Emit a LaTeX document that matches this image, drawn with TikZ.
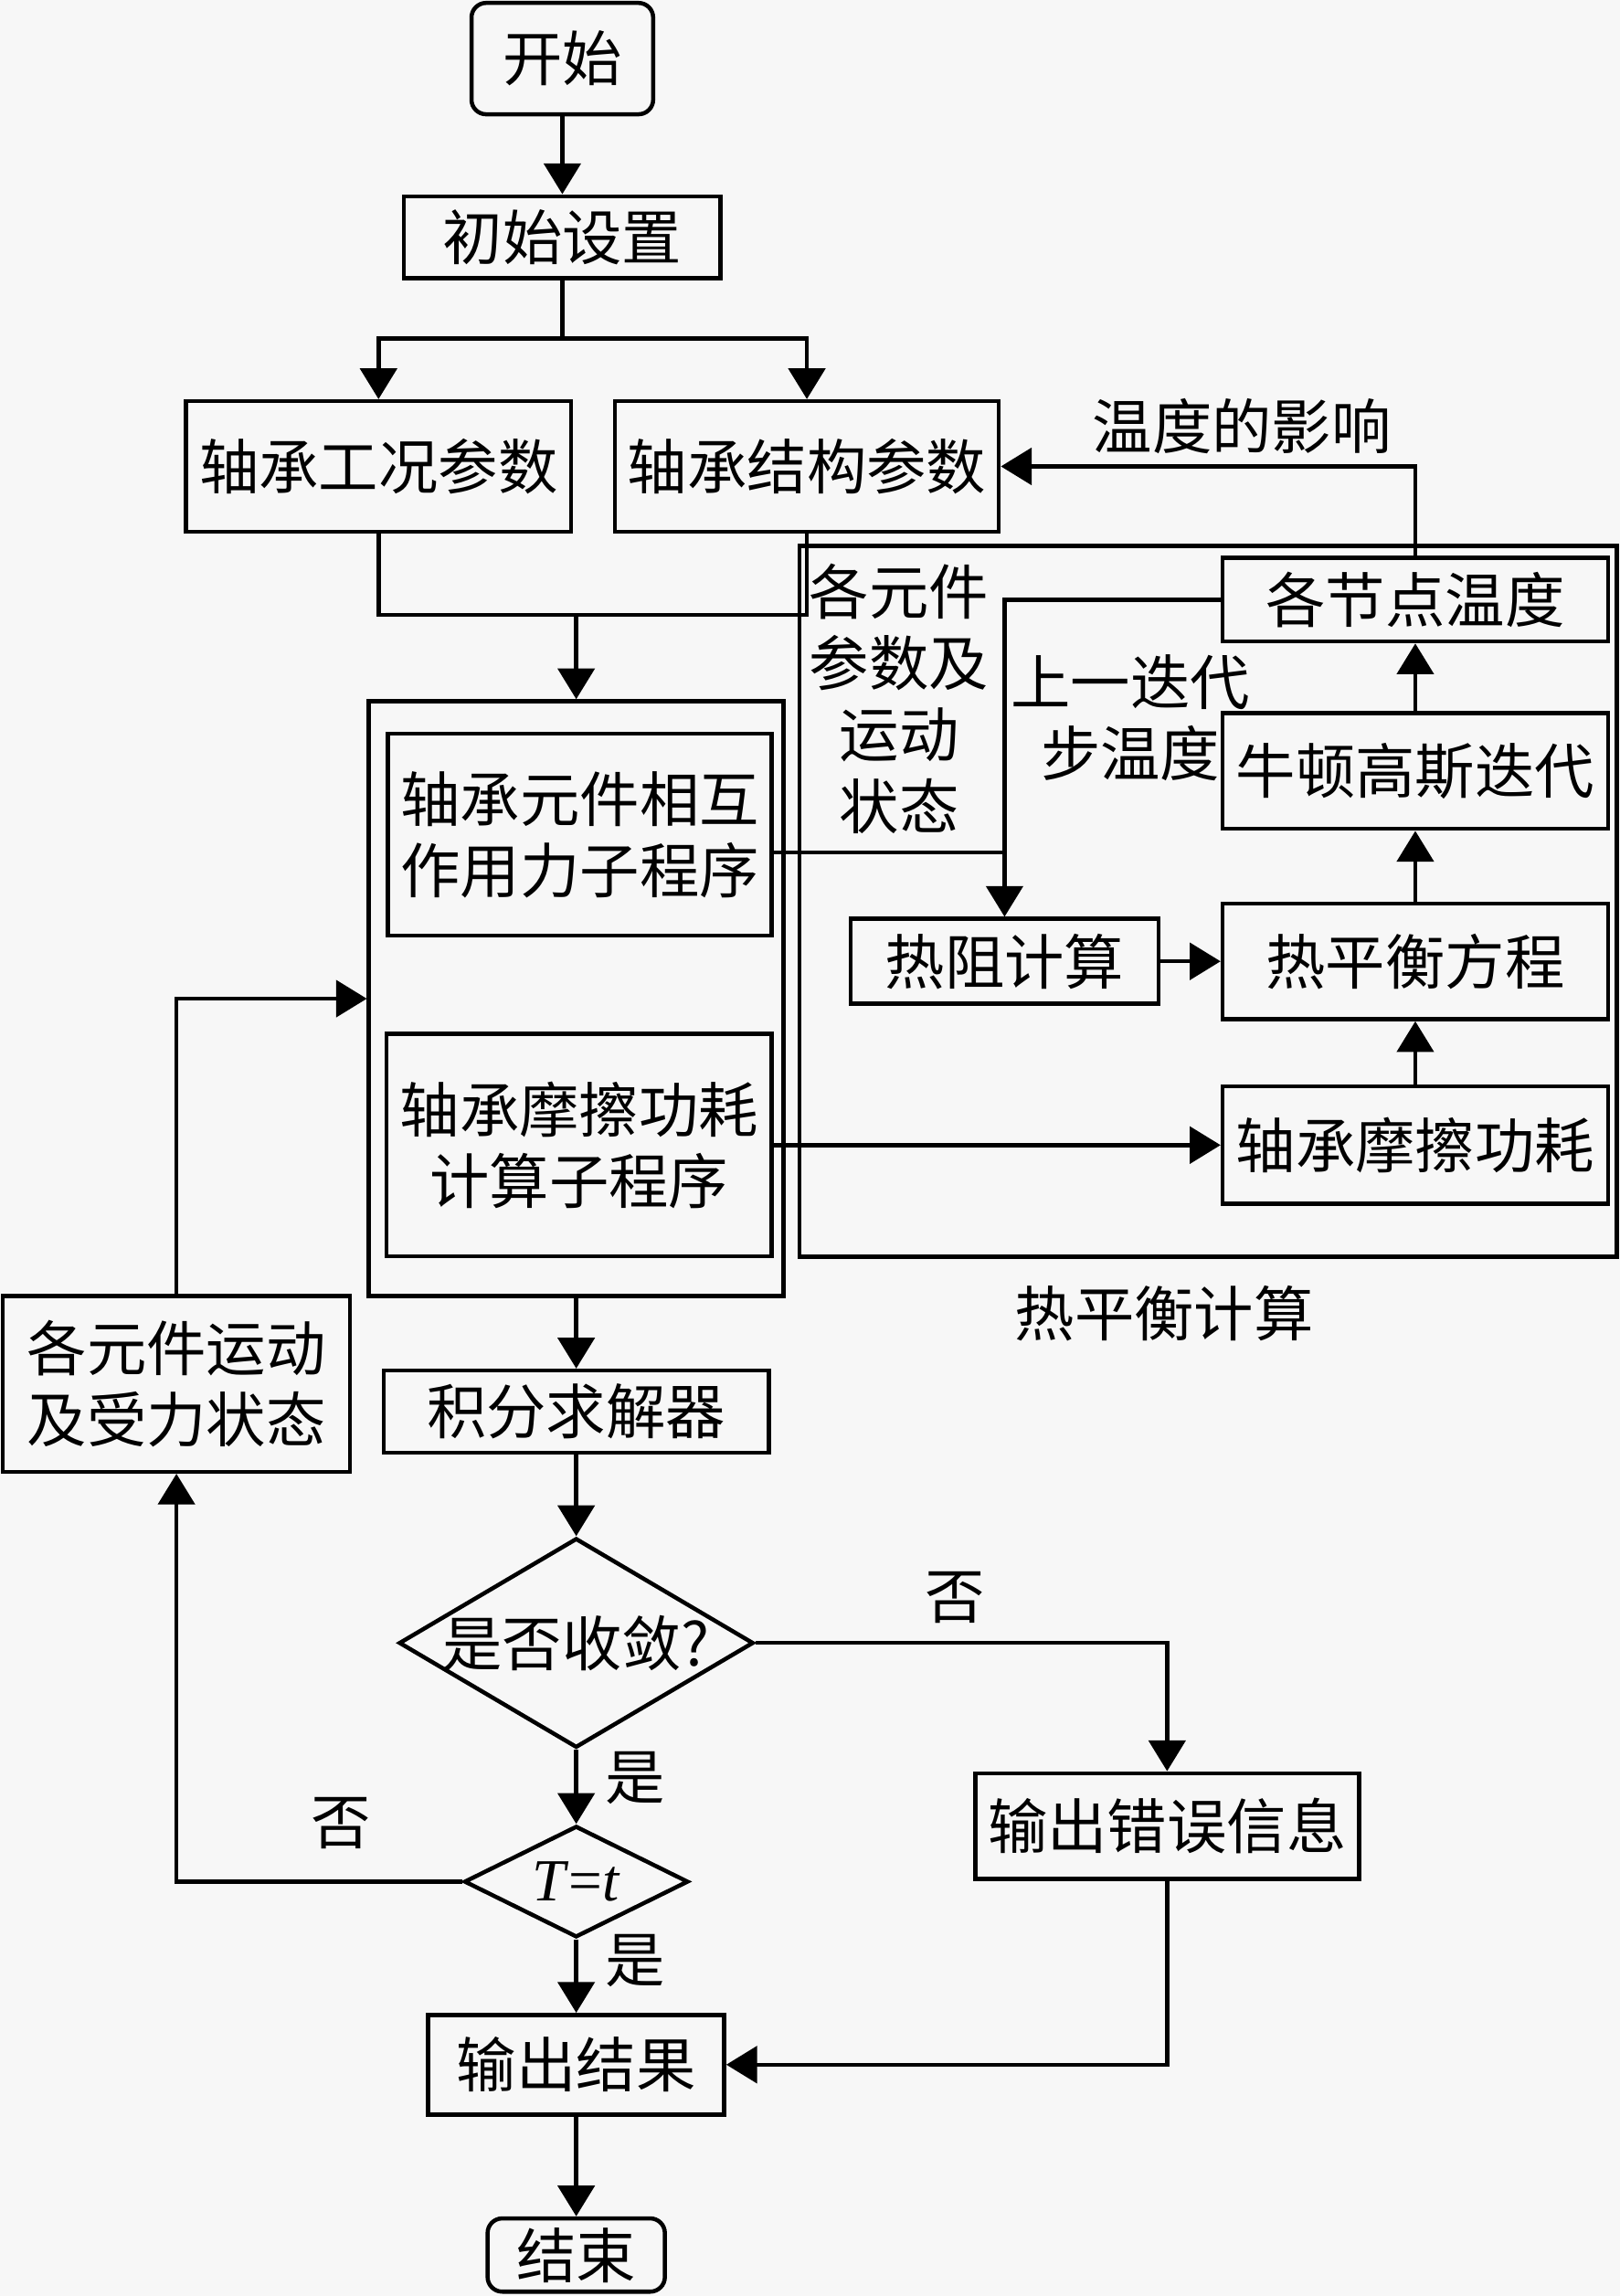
\documentclass[tikz,border=0pt]{standalone}
\usepackage{fontspec}
\setmainfont{Noto Sans CJK SC}
\newfontfamily\latinserif{Liberation Serif}
\usepackage{xcolor}
\usepackage{tikz}
\usetikzlibrary{shapes.geometric,arrows.meta,calc}
\definecolor{paper}{HTML}{F7F7F7}

\begin{document}
\begin{tikzpicture}[x=0.01cm,y=-0.01cm,
  every node/.style={font=\fontsize{11.6pt}{13.9pt}\selectfont},
  blk/.style={draw,line width=0.8pt,inner sep=0pt,align=center},
  term/.style={blk,rounded corners=1mm},
  decide/.style={draw,line width=0.8pt,diamond,inner sep=-0.5mm},
  flow/.style={line width=0.8pt},
  arr/.style={flow,-{Triangle[length=2.1mm,width=2.5mm]}}]
  \fill[paper] (0,0) rectangle (1106,1568);
  \useasboundingbox (0,0) rectangle (1106,1568);

  \node[term,minimum width=1.24cm,minimum height=0.76cm] (start) at (384,40) {开始};
  \node[blk,minimum width=2.16cm,minimum height=0.56cm] (init) at (384,162) {初始设置};
  \node[blk,minimum width=2.63cm,minimum height=0.89cm] (work) at (258.5,318.5) {轴承工况参数};
  \node[blk,minimum width=2.62cm,minimum height=0.89cm] (struct) at (551,318.5) {轴承结构参数};
  \node[blk,minimum width=2.83cm,minimum height=4.06cm] (outer) at (393.5,682) {};
  \node[blk,minimum width=2.62cm,minimum height=1.38cm] (force) at (396,570) {轴承元件相互\\作用力子程序};
  \node[blk,minimum width=2.63cm,minimum height=1.52cm] (fric) at (395.5,782) {轴承摩擦功耗\\计算子程序};
  \node[blk,minimum width=5.58cm,minimum height=4.85cm] (heat) at (825,615.5) {};
  \node[blk,minimum width=2.63cm,minimum height=0.57cm] (nodetemp) at (966.5,409.5) {各节点温度};
  \node[blk,minimum width=2.63cm,minimum height=0.79cm] (newton) at (966.5,526.5) {牛顿高斯迭代};
  \node[blk,minimum width=2.63cm,minimum height=0.79cm] (balance) at (966.5,656.5) {热平衡方程};
  \node[blk,minimum width=2.10cm,minimum height=0.58cm] (resist) at (686,656.5) {热阻计算};
  \node[blk,minimum width=2.63cm,minimum height=0.80cm] (loss) at (966.5,782) {轴承摩擦功耗};
  \node[blk,minimum width=2.37cm,minimum height=1.20cm] (state) at (120.5,945) {各元件运动\\及受力状态};
  \node[blk,minimum width=2.63cm,minimum height=0.56cm] (solver) at (393.5,964) {积分求解器};
  \node[decide,aspect=1.69,minimum width=2.42cm,minimum height=1.43cm] (conv) at (393.5,1122) {是否收敛?};
  \node[decide,aspect=2,minimum width=1.53cm,minimum height=0.76cm] (tcheck) at (393.5,1285) {\latinserif\textit{T}=\textit{t}};
  \node[blk,minimum width=2.62cm,minimum height=0.72cm] (err) at (797,1247) {输出错误信息};
  \node[blk,minimum width=2.02cm,minimum height=0.68cm] (result) at (393.5,1410) {输出结果};
  \node[term,minimum width=1.21cm,minimum height=0.50cm] (finish) at (393.5,1540) {结束};

  \node (inflabel) at (848,291) {温度的影响};
  \node[align=center] (partlabel) at (614,477) {各元件\\参数及\\运动\\状态};
  \node[align=center] (prevlabel) at (772,490) {上一迭代\\步温度};
  \node (heatlabel) at (795,897) {热平衡计算};
  \node (no1) at (652,1091) {否};
  \node (yes1) at (434,1214) {是};
  \node (no2) at (233,1245) {否};
  \node (yes2) at (434,1339) {是};

  \coordinate (split) at (384,231);
  \coordinate (join) at (393.5,420);
  \coordinate (tap) at ([yshift=-1.2mm]force.east);
  \draw[arr] (start) -- (init);
  \draw[flow] (init) -- (split);
  \draw[arr] (split) -| (work);
  \draw[arr] (split) -| (struct);
  \draw[flow] (work) |- (struct |- join) -- (struct);
  \draw[arr] (join) -- (outer);
  \draw[arr] (nodetemp) |- (struct);
  \draw[arr] (nodetemp) -| (resist);
  \draw[flow] (tap) -- (tap -| resist);
  \draw[arr] (fric) -- (loss);
  \draw[arr] (resist) -- (balance);
  \draw[arr] (loss) -- (balance);
  \draw[arr] (balance) -- (newton);
  \draw[arr] (newton) -- (nodetemp);
  \draw[arr] (outer) -- (solver);
  \draw[arr] (solver) -- (conv);
  \draw[arr] (conv) -- (tcheck);
  \draw[arr] (tcheck) -- (result);
  \draw[arr] (result) -- (finish);
  \draw[arr] (conv) -| (err);
  \draw[arr] (err) |- (result);
  \draw[arr] (tcheck) -| (state);
  \draw[arr] (state) |- (outer);
\end{tikzpicture}
\end{document}
